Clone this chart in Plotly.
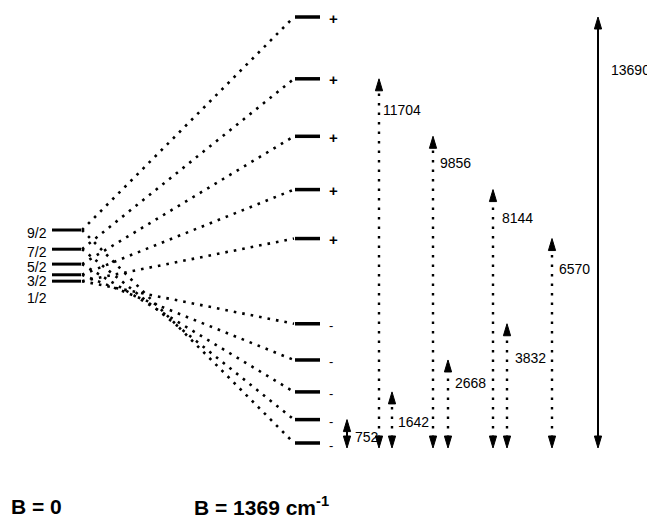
import plotly.graph_objects as go

# ---------------- data (energies in cm-1) ----------------
j_labels = ["9/2", "7/2", "5/2", "3/2", "1/2"]
zero_field_levels = [6845, 6228, 5749, 5406, 5201]
plus_levels = [13690, 11704, 9856, 8144, 6570]      # paired with j_labels
minus_levels = [0, 752, 1642, 2668, 3832]           # paired with j_labels
transition_energies = [752, 1642, 2668, 3832, 6570, 8144, 9856, 11704, 13690]
transition_labels = ["752", "1642", "2668", "3832", "6570", "8144", "9856", "11704", "13690"]
field_labels = ["<b>B = 0</b>", "<b>B = 1369 cm<sup>-1</sup></b>"]

# ---------------- layout constants (pixels) ----------------
W, H = 647, 529
Y_ZERO_PX = 443
PX_PER_CM = 426 / 13690
FONT = "Liberation Sans, Arial, sans-serif"


def px_to_e(py):
    return (Y_ZERO_PX - py) / PX_PER_CM


def dy(px):
    return px / PX_PER_CM


LEFT_BAR = (52, 81)
RIGHT_BAR = (295, 320)
left_label_px = [233, 252, 267, 281, 298]
arrow_x = [347, 392, 448, 507, 552, 493, 433, 379, 598]
label_xy_px = [(353, 437), (396, 422), (453, 383), (513, 358), (557, 269),
               (500, 218), (438, 163), (381, 110), (609, 70)]
solid_arrow = [True, False, False, False, False, False, False, False, True]
ARROW_BOTTOM_PX = 448
HEAD_LEN, HEAD_HALF = 12, 3.6

fig = go.Figure()

# dotted connection lines
cx, cy = [], []
for ez, ep, em in zip(zero_field_levels, plus_levels, minus_levels):
    for e in (ep, em):
        cx += [LEFT_BAR[1] + 1, RIGHT_BAR[0] - 1, None]
        cy += [ez, e, None]
fig.add_trace(go.Scatter(x=cx, y=cy, mode="lines",
                         line=dict(color="black", width=2.6, dash="2.6px,6px"),
                         hoverinfo="skip", showlegend=False))

# left bars
lx, ly = [], []
for ez in zero_field_levels:
    lx += [LEFT_BAR[0], LEFT_BAR[1], None]
    ly += [ez, ez, None]
fig.add_trace(go.Scatter(x=lx, y=ly, mode="lines", line=dict(color="black", width=3),
                         hoverinfo="skip", showlegend=False))

# right bars
rx, ry = [], []
for e in plus_levels + minus_levels:
    rx += [RIGHT_BAR[0], RIGHT_BAR[1], None]
    ry += [e, e, None]
fig.add_trace(go.Scatter(x=rx, y=ry, mode="lines", line=dict(color="black", width=3.5),
                         hoverinfo="skip", showlegend=False))

# transition arrows
bottom_e = px_to_e(ARROW_BOTTOM_PX)
dx_d, dy_d, dx_s, dy_s = [], [], [], []
hx, hy = [], []
for e, x, solid in zip(transition_energies, arrow_x, solid_arrow):
    if solid:
        dx_s += [x, x, None]
        dy_s += [bottom_e + dy(HEAD_LEN - 2), e - dy(HEAD_LEN - 2), None]
    else:
        dx_d += [x, x, None]
        dy_d += [bottom_e + dy(HEAD_LEN - 2), e - dy(HEAD_LEN - 2), None]
    # up head
    hx += [x - HEAD_HALF, x + HEAD_HALF, x, x - HEAD_HALF, None]
    hy += [e - dy(HEAD_LEN), e - dy(HEAD_LEN), e, e - dy(HEAD_LEN), None]
    # down head
    hx += [x - HEAD_HALF, x + HEAD_HALF, x, x - HEAD_HALF, None]
    hy += [bottom_e + dy(HEAD_LEN), bottom_e + dy(HEAD_LEN), bottom_e, bottom_e + dy(HEAD_LEN), None]

fig.add_trace(go.Scatter(x=dx_d, y=dy_d, mode="lines",
                         line=dict(color="black", width=2.4, dash="2.5px,7px"),
                         hoverinfo="skip", showlegend=False))
fig.add_trace(go.Scatter(x=dx_s, y=dy_s, mode="lines",
                         line=dict(color="black", width=2),
                         hoverinfo="skip", showlegend=False))
fig.add_trace(go.Scatter(x=hx, y=hy, mode="lines", fill="toself", fillcolor="black",
                         line=dict(color="black", width=1),
                         hoverinfo="skip", showlegend=False))

annotations = []
# J labels
for lab, py in zip(j_labels, left_label_px):
    annotations.append(dict(x=49, y=px_to_e(py), text=lab, showarrow=False,
                            xanchor="right", yanchor="middle",
                            font=dict(family=FONT, size=14, color="black")))
# +/- signs
for e in plus_levels:
    annotations.append(dict(x=333, y=e, text="<b>+</b>", showarrow=False, yshift=-1,
                            xanchor="center", yanchor="middle",
                            font=dict(family=FONT, size=15, color="black")))
for e in minus_levels:
    annotations.append(dict(x=331, y=e, text="-", showarrow=False, yshift=-2,
                            xanchor="center", yanchor="middle",
                            font=dict(family=FONT, size=13, color="black")))
# transition labels
for lab, (px, py) in zip(transition_labels, label_xy_px):
    annotations.append(dict(x=px, y=px_to_e(py), text=lab, showarrow=False,
                            xanchor="left", yanchor="middle",
                            font=dict(family=FONT, size=14, color="black")))
# field labels
for lab, px in zip(field_labels, [9, 192]):
    annotations.append(dict(x=px, y=px_to_e(506), text=lab, showarrow=False,
                            xanchor="left", yanchor="middle",
                            font=dict(family=FONT, size=21, color="black")))

fig.update_layout(
    width=W, height=H, autosize=False,
    margin=dict(l=0, r=0, t=0, b=0),
    paper_bgcolor="white", plot_bgcolor="white",
    xaxis=dict(range=[0, W], visible=False, fixedrange=True),
    yaxis=dict(range=[px_to_e(H), px_to_e(0)], visible=False, fixedrange=True),
    annotations=annotations,
    showlegend=False,
)

fig.write_html("out.html", config={"displayModeBar": False},
               post_script="document.body.style.margin='0';document.body.style.overflow='hidden';")
